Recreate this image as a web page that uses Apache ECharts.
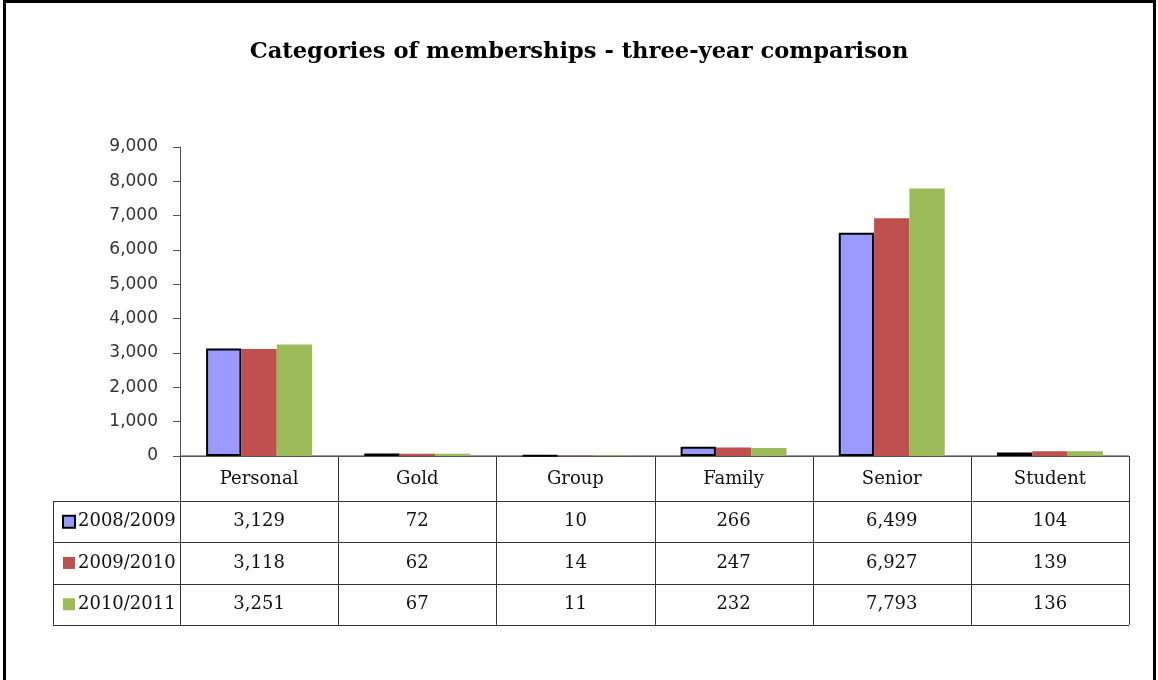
<!DOCTYPE html>
<html>
<head>
<meta charset="utf-8">
<script src="https://cdn.jsdelivr.net/npm/echarts@6/dist/echarts.min.js"></script>
<style>
html,body{margin:0;padding:0;background:#fff;}
#main{width:1158px;height:680px;}
</style>
</head>
<body>
<div id="main"></div>
<script>
const titleText = 'Categories of memberships - three-year comparison';
const categories = ['Personal', 'Gold', 'Group', 'Family', 'Senior', 'Student'];
const seriesNames = ['2008/2009', '2009/2010', '2010/2011'];
const values2008 = [3129, 72, 10, 266, 6499, 104];
const values2009 = [3118, 62, 14, 247, 6927, 139];
const values2010 = [3251, 67, 11, 232, 7793, 136];
const yTicks = [0, 1000, 2000, 3000, 4000, 5000, 6000, 7000, 8000, 9000];

const allValues = [values2008, values2009, values2010];
const colors = ['#9999FF', '#C0504D', '#9BBB59'];

const W = 1158, H = 680;
const gLeft = 180, gRight = 29, gTop = 147, gBottom = 224;
const plotW = W - gLeft - gRight;
const axisY = H - gBottom;
const colW = plotW / categories.length;
const tableLeft = 53;
const headerH = 45;
const rowH = 41.3;
const lineColor = '#333';
const tableFont = '"DejaVu Serif"';
const fmt = v => v.toLocaleString('en-US');

const graphics = [];
// outer frame
graphics.push({type:'rect', shape:{x:4.5, y:1.5, width:1150, height:690}, style:{fill:null, stroke:'#000', lineWidth:3}, silent:true});
const tableBottom = axisY + headerH + rowH * 3;
graphics.push({type:'line', shape:{x1:gLeft, y1:axisY, x2:gLeft+plotW, y2:axisY}, style:{stroke:lineColor, lineWidth:1}});
for (let r = 0; r <= 3; r++) {
  const y = Math.round(axisY + headerH + r * rowH) + 0.5;
  graphics.push({type:'line', shape:{x1:tableLeft, y1:y, x2:gLeft+plotW, y2:y}, style:{stroke:lineColor, lineWidth:1}});
}
for (let c = 0; c <= categories.length; c++) {
  const x = Math.round(gLeft + c * colW) + 0.5;
  graphics.push({type:'line', shape:{x1:x, y1:axisY, x2:x, y2:tableBottom}, style:{stroke:lineColor, lineWidth:1}});
}
graphics.push({type:'line', shape:{x1:tableLeft+0.5, y1:axisY+headerH, x2:tableLeft+0.5, y2:tableBottom}, style:{stroke:lineColor, lineWidth:1}});
categories.forEach((c, i) => {
  graphics.push({type:'text', x: gLeft + (i + 0.5) * colW, y: axisY + headerH/2 + 1,
    style:{text:c, font:'18px ' + tableFont, fill:'#111', textAlign:'center', textVerticalAlign:'middle'}});
});
seriesNames.forEach((name, r) => {
  const cy = axisY + headerH + (r + 0.5) * rowH;
  graphics.push({type:'rect', shape:{x:tableLeft+10, y:cy-6, width:12, height:12},
    style:{fill:colors[r], stroke: r === 0 ? '#000' : null, lineWidth: r === 0 ? 2 : 0}});
  graphics.push({type:'text', x: tableLeft + 25, y: cy,
    style:{text:name, font:'18px ' + tableFont, fill:'#111', textAlign:'left', textVerticalAlign:'middle'}});
  allValues[r].forEach((v, i) => {
    graphics.push({type:'text', x: gLeft + (i + 0.5) * colW, y: cy,
      style:{text:fmt(v), font:'18px ' + tableFont, fill:'#111', textAlign:'center', textVerticalAlign:'middle'}});
  });
});

const chart = echarts.init(document.getElementById('main'), null, {renderer:'canvas'});
chart.setOption({
  backgroundColor:'#fff',
  animation:false,
  title:{text:titleText, left:'center', top:36,
    textStyle:{fontFamily:'DejaVu Serif', fontWeight:'bold', fontSize:22.6, color:'#000'}},
  grid:{left:gLeft, right:gRight, top:gTop, bottom:gBottom, containLabel:false},
  xAxis:{type:'category', data:categories,
    axisLine:{show:true, lineStyle:{color:'#555'}}, axisTick:{show:false}, axisLabel:{show:false}, splitLine:{show:false}},
  yAxis:{type:'value', min:yTicks[0], max:yTicks[yTicks.length-1], interval:1000,
    axisLine:{show:true, lineStyle:{color:'#555'}},
    axisTick:{show:true, length:7, lineStyle:{color:'#555'}},
    splitLine:{show:false},
    axisLabel:{margin:22, fontFamily:'DejaVu Sans', fontSize:17, color:'#333', formatter:v => fmt(v)}},
  series: seriesNames.map((n, i) => ({
    name:n, type:'bar', data:allValues[i], barGap:'0%', barCategoryGap:'33%',
    itemStyle:{color:colors[i], borderColor: i === 0 ? '#000' : colors[i], borderWidth: i === 0 ? 2 : 0}
  })),
  graphic:{elements:graphics}
});
</script>
</body>
</html>
